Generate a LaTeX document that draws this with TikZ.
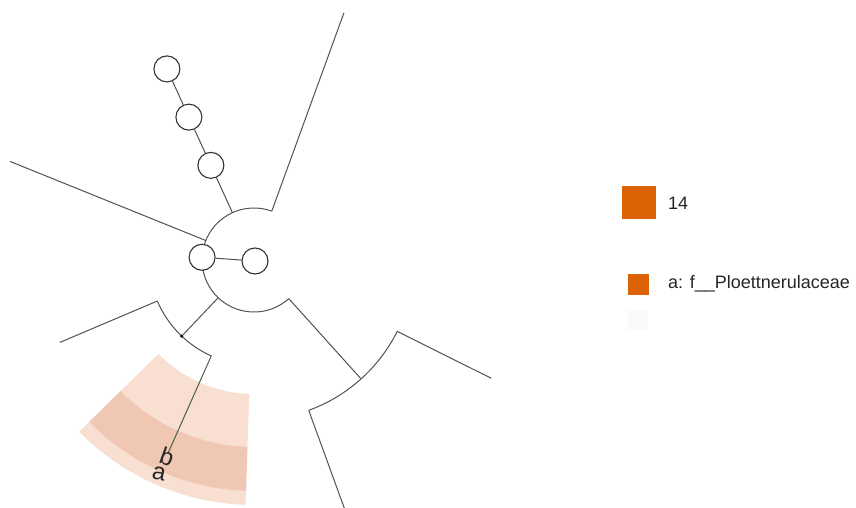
\documentclass[tikz,border=0pt]{standalone}
\usepackage{fontspec}
\setmainfont{Liberation Sans}
\definecolor{legor}{RGB}{220,98,5}
\definecolor{wedgeL}{RGB}{248,223,210}
\definecolor{wedgeD}{RGB}{240,199,178}
\definecolor{tipline}{RGB}{72,96,72}
\begin{document}
\begin{tikzpicture}[x=1pt,y=1pt,
  br/.style={draw=black!68, line width=1pt},
  circ/.style={circle, draw=black!80, line width=1.1pt, minimum size=26pt, inner sep=0pt, fill=white},
  lbl/.style={font=\fontsize{24}{24}\selectfont, text=black!85, inner sep=0pt},
  legtxt/.style={anchor=west, inner sep=0pt, font=\fontsize{18}{18}\selectfont, text=black!85}]
\useasboundingbox (-254,-248) rectangle (602,260);
% highlighted wedge
\fill[wedgeL] (224.5:134) arc[start angle=224.5, end angle=268, radius=134]
  -- (268:245) arc[start angle=268, end angle=224.5, radius=245] -- cycle;
\fill[wedgeD] (224.5:187) arc[start angle=224.5, end angle=268, radius=187]
  -- (268:231) arc[start angle=268, end angle=224.5, radius=231] -- cycle;
% root arc
\draw[br] (70:52) arc[start angle=70, end angle=312, radius=52];
% second arc (lower left)
\draw[br] (203:105) arc[start angle=203, end angle=246, radius=105];
% third arc (lower right)
\draw[br] (-26.5:160) arc[start angle=-26.5, end angle=-70, radius=160];
% coordinates
\coordinate (rA) at (70:52);   \coordinate (lA) at (70:263);
\coordinate (rB) at (114.5:52);
\coordinate (rC) at (158:52);  \coordinate (lC) at (158:263);
\coordinate (rD) at (226.5:52);
\coordinate (m1) at (203:105); \coordinate (lD1) at (203:211);
\coordinate (m2) at (246:105); \coordinate (lD2) at (246:211);
\coordinate (rE) at (-48:52);  \coordinate (nE) at (-48:160);
\coordinate (m3) at (-26.5:160); \coordinate (lE1) at (-26.5:265);
\coordinate (m4) at (-70:160); \coordinate (lE2) at (-70:265);
% nodes
\node[circ] (c3) at (114.5:104) {};
\node[circ] (c4) at (114.5:157) {};
\node[circ] (c5) at (114.5:210) {};
\node[circ] (c1) at (177:52) {};
\node[circ] (c2) at (1,-1) {};
\node[circle, fill=black, inner sep=0pt, minimum size=3.5pt] (dot) at (226.5:105) {};
% branches
\draw[br] (rA) -- (lA);
\draw[br] (rB) -- (c3);
\draw[br] (c3) -- (c4);
\draw[br] (c4) -- (c5);
\draw[br] (rC) -- (lC);
\draw[br] (c1) -- (c2);
\draw[br] (rD) -- (dot);
\draw[br] (m1) -- (lD1);
\draw[draw=tipline, line width=1pt] (m2) -- (lD2);
\draw[br] (rE) -- (nE);
\draw[br] (m3) -- (lE1);
\draw[br] (m4) -- (lE2);
% labels
\node[lbl, rotate=-20] (lb) at (-87,-197) {b};
\node[lbl, rotate=-12] (la) at (-95,-214) {a};
% legend
\node[fill=legor, minimum width=34pt, minimum height=33pt, inner sep=0pt] (k1) at (385,57.5) {};
\node[legtxt] (t1) at (414,57) {14};
\node[fill=legor, minimum size=21pt, inner sep=0pt] (k2) at (384.5,-24.5) {};
\node[legtxt] (t2) at (414,-24) {a: f\_\_Ploettnerulaceae};
\node[fill=black!2, minimum width=20pt, minimum height=20pt, inner sep=0pt] (k3) at (384,-60) {};
\end{tikzpicture}
\end{document}
